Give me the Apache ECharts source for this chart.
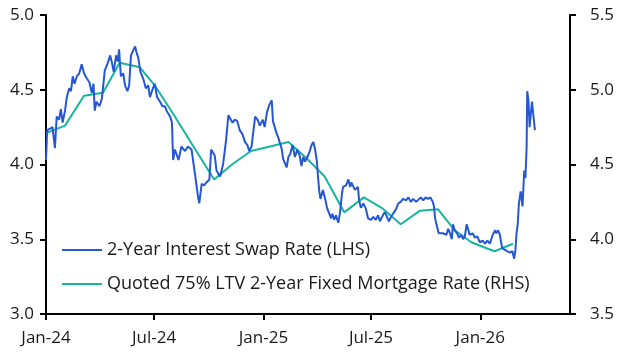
<!DOCTYPE html>
<html><head><meta charset="utf-8">
<script src="https://cdn.jsdelivr.net/npm/echarts@6/dist/echarts.min.js"></script>
<style>html,body{margin:0;padding:0;background:#fff}#c{width:626px;height:360px}</style>
</head><body><div id="c"></div>
<script>
const swapDates = ['2024-01-01','2024-01-03','2024-01-08','2024-01-12','2024-01-16','2024-01-19','2024-01-23','2024-01-26','2024-01-29','2024-02-02','2024-02-05','2024-02-09','2024-02-12','2024-02-15','2024-02-18','2024-02-22','2024-02-26','2024-03-01','2024-03-05','2024-03-09','2024-03-14','2024-03-18','2024-03-21','2024-03-23','2024-03-26','2024-03-31','2024-04-04','2024-04-06','2024-04-09','2024-04-14','2024-04-18','2024-04-21','2024-04-24','2024-04-28','2024-05-01','2024-05-03','2024-05-06','2024-05-10','2024-05-13','2024-05-17','2024-05-20','2024-05-23','2024-05-26','2024-05-30','2024-06-02','2024-06-04','2024-06-08','2024-06-13','2024-06-17','2024-06-21','2024-06-24','2024-06-29','2024-07-02','2024-07-06','2024-07-11','2024-07-15','2024-07-19','2024-07-22','2024-07-25','2024-07-28','2024-07-31','2024-08-02','2024-08-05','2024-08-07','2024-08-11','2024-08-16','2024-08-22','2024-08-27','2024-09-02','2024-09-05','2024-09-09','2024-09-13','2024-09-15','2024-09-19','2024-09-23','2024-09-27','2024-10-02','2024-10-05','2024-10-08','2024-10-11','2024-10-14','2024-10-20','2024-10-25','2024-10-30','2024-11-03','2024-11-06','2024-11-10','2024-11-14','2024-11-18','2024-11-22','2024-11-27','2024-12-01','2024-12-05','2024-12-08','2024-12-12','2024-12-18','2024-12-22','2024-12-26','2024-12-31','2025-01-03','2025-01-07','2025-01-11','2025-01-15','2025-01-17','2025-01-20','2025-01-23','2025-01-26','2025-01-29','2025-02-01','2025-02-03','2025-02-06','2025-02-09','2025-02-12','2025-02-15','2025-02-19','2025-02-23','2025-02-27','2025-03-03','2025-03-06','2025-03-09','2025-03-12','2025-03-17','2025-03-20','2025-03-23','2025-03-26','2025-03-29','2025-04-01','2025-04-03','2025-04-05','2025-04-07','2025-04-11','2025-04-13','2025-04-16','2025-04-18','2025-04-22','2025-04-25','2025-04-27','2025-04-30','2025-05-03','2025-05-07','2025-05-10','2025-05-13','2025-05-15','2025-05-20','2025-05-24','2025-05-27','2025-05-29','2025-06-04','2025-06-09','2025-06-11','2025-06-14','2025-06-18','2025-06-22','2025-06-26','2025-07-01','2025-07-05','2025-07-09','2025-07-13','2025-07-16','2025-07-21','2025-07-24','2025-07-27','2025-07-31','2025-08-04','2025-08-07','2025-08-12','2025-08-16','2025-08-20','2025-08-24','2025-08-29','2025-09-02','2025-09-06','2025-09-10','2025-09-15','2025-09-18','2025-09-23','2025-09-27','2025-10-01','2025-10-05','2025-10-09','2025-10-13','2025-10-15','2025-10-17','2025-10-18','2025-10-20','2025-10-23','2025-10-26','2025-10-30','2025-11-02','2025-11-05','2025-11-08','2025-11-11','2025-11-14','2025-11-16','2025-11-19','2025-11-23','2025-11-26','2025-11-30','2025-12-03','2025-12-06','2025-12-09','2025-12-12','2025-12-14','2025-12-19','2025-12-23','2025-12-27','2025-12-31','2026-01-05','2026-01-09','2026-01-13','2026-01-17','2026-01-22','2026-01-26','2026-01-28','2026-01-31','2026-02-03','2026-02-05','2026-02-07','2026-02-11','2026-02-15','2026-02-20','2026-02-24','2026-02-27','2026-03-01','2026-03-03','2026-03-05','2026-03-07','2026-03-10','2026-03-13','2026-03-16','2026-03-18','2026-03-20','2026-03-21','2026-03-23','2026-03-25','2026-03-27','2026-03-29','2026-03-31','2026-04-02','2026-04-03'];
const swapValues = [4.03,4.23,4.24,4.25,4.11,4.32,4.30,4.37,4.28,4.36,4.45,4.51,4.49,4.59,4.54,4.59,4.61,4.67,4.61,4.58,4.55,4.48,4.54,4.36,4.42,4.39,4.44,4.45,4.63,4.68,4.73,4.68,4.62,4.73,4.69,4.77,4.59,4.61,4.53,4.49,4.53,4.73,4.72,4.79,4.74,4.72,4.62,4.57,4.51,4.53,4.45,4.51,4.54,4.45,4.42,4.39,4.39,4.36,4.34,4.32,4.28,4.03,4.10,4.10,4.03,4.12,4.09,4.12,4.10,4.09,3.90,3.78,3.74,3.87,3.86,3.88,3.90,4.10,4.11,4.06,3.96,3.92,4.00,4.16,4.33,4.32,4.28,4.30,4.29,4.23,4.20,4.15,4.13,4.09,4.12,4.32,4.30,4.26,4.30,4.25,4.35,4.40,4.43,4.29,4.25,4.21,4.18,4.14,4.10,4.04,4.03,3.98,4.05,4.07,4.13,4.05,4.10,4.06,3.99,4.05,4.02,4.06,4.09,4.13,4.15,4.10,4.02,3.91,3.82,3.77,3.83,3.80,3.75,3.71,3.67,3.64,3.67,3.63,3.66,3.61,3.68,3.80,3.85,3.86,3.90,3.85,3.88,3.83,3.85,3.76,3.71,3.74,3.71,3.64,3.63,3.65,3.63,3.66,3.62,3.66,3.68,3.66,3.62,3.65,3.67,3.70,3.74,3.75,3.77,3.76,3.78,3.75,3.77,3.75,3.76,3.78,3.76,3.78,3.77,3.78,3.75,3.72,3.64,3.62,3.63,3.54,3.55,3.54,3.55,3.53,3.57,3.54,3.50,3.60,3.56,3.54,3.51,3.53,3.50,3.52,3.60,3.56,3.53,3.54,3.51,3.52,3.48,3.49,3.47,3.49,3.47,3.53,3.56,3.54,3.56,3.53,3.48,3.44,3.43,3.42,3.41,3.42,3.37,3.42,3.54,3.60,3.74,3.82,3.72,3.96,3.91,4.12,4.49,4.43,4.25,4.34,4.42,4.34,4.33,4.23];
const mortgageDates = ['2024-01-01','2024-02-02','2024-03-05','2024-04-06','2024-05-04','2024-06-07','2024-07-02','2024-08-02','2024-09-02','2024-10-10','2024-11-09','2024-12-11','2025-01-12','2025-02-12','2025-03-15','2025-04-14','2025-05-17','2025-06-19','2025-07-19','2025-08-20','2025-09-21','2025-10-22','2025-11-19','2025-12-17','2026-01-05','2026-01-25','2026-02-25'];
const mortgageValues = [4.71,4.76,4.96,4.98,5.18,5.15,5.03,4.84,4.64,4.40,4.50,4.59,4.62,4.65,4.54,4.42,4.18,4.28,4.21,4.10,4.19,4.20,4.06,3.98,3.95,3.92,3.97];
const xTickDates = ['2024-01-01','2024-07-01','2025-01-01','2025-07-01','2026-01-01'];
const xTickLabels = ['Jan-24','Jul-24','Jan-25','Jul-25','Jan-26'];
const xRange = ['2024-01-01','2026-06-01'];
const seriesNames = ['2-Year Interest Swap Rate (LHS)','Quoted 75% LTV 2-Year Fixed Mortgage Rate (RHS)'];

function ts(s){const p=s.split('-').map(Number);return Date.UTC(p[0],p[1]-1,p[2]);}
const tickTs = xTickDates.map(ts);
const FONT = 'Open Sans';
const TXT = '#1a1a1a';
const chart = echarts.init(document.getElementById('c'), null, {renderer:'canvas'});
const axisLineStyle = {color:'#000', width:2};
chart.setOption({
  animation:false,
  textStyle:{fontFamily:FONT},
  grid:{left:46, right:56, top:15, bottom:46, containLabel:false},
  legend:{
    orient:'vertical', left:62, top:241, padding:0, itemWidth:40, itemHeight:2, itemGap:16,
    icon:'rect', textStyle:{fontFamily:FONT, fontSize:18, color:TXT},
    data:seriesNames
  },
  xAxis:{
    type:'value', min:ts(xRange[0]), max:ts(xRange[1]),
    axisLine:{show:true, lineStyle:axisLineStyle},
    axisTick:{show:true, length:6, lineStyle:{color:'#000', width:2}, customValues:tickTs},
    axisLabel:{customValues:tickTs, margin:16, fontFamily:FONT, fontSize:17, color:TXT,
      formatter:function(v){const i=tickTs.indexOf(v);return i>=0?xTickLabels[i]:'';}},
    splitLine:{show:false}
  },
  yAxis:[
    {type:'value', min:3, max:5, interval:0.5, position:'left',
     axisLine:{show:true, lineStyle:axisLineStyle},
     axisTick:{show:true, length:6, lineStyle:{color:'#000', width:2}},
     axisLabel:{margin:12, fontFamily:FONT, fontSize:17, color:TXT, formatter:v=>v.toFixed(1)},
     splitLine:{show:false}},
    {type:'value', min:3.5, max:5.5, interval:0.5, position:'right',
     axisLine:{show:true, lineStyle:axisLineStyle},
     axisTick:{show:true, length:6, lineStyle:{color:'#000', width:2}},
     axisLabel:{margin:20, fontFamily:FONT, fontSize:17, color:TXT, formatter:v=>v.toFixed(1)},
     splitLine:{show:false}}
  ],
  series:[
    {name:seriesNames[0], type:'line', yAxisIndex:0, showSymbol:false, symbol:'none',
     lineStyle:{color:'#2457d6', width:2}, itemStyle:{color:'#2457d6'},
     data:swapDates.map((d,i)=>[ts(d), swapValues[i]]), z:3},
    {name:seriesNames[1], type:'line', yAxisIndex:1, showSymbol:false, symbol:'none',
     lineStyle:{color:'#17b5a0', width:2}, itemStyle:{color:'#17b5a0'},
     data:mortgageDates.map((d,i)=>[ts(d), mortgageValues[i]]), z:2}
  ]
});
</script></body></html>
